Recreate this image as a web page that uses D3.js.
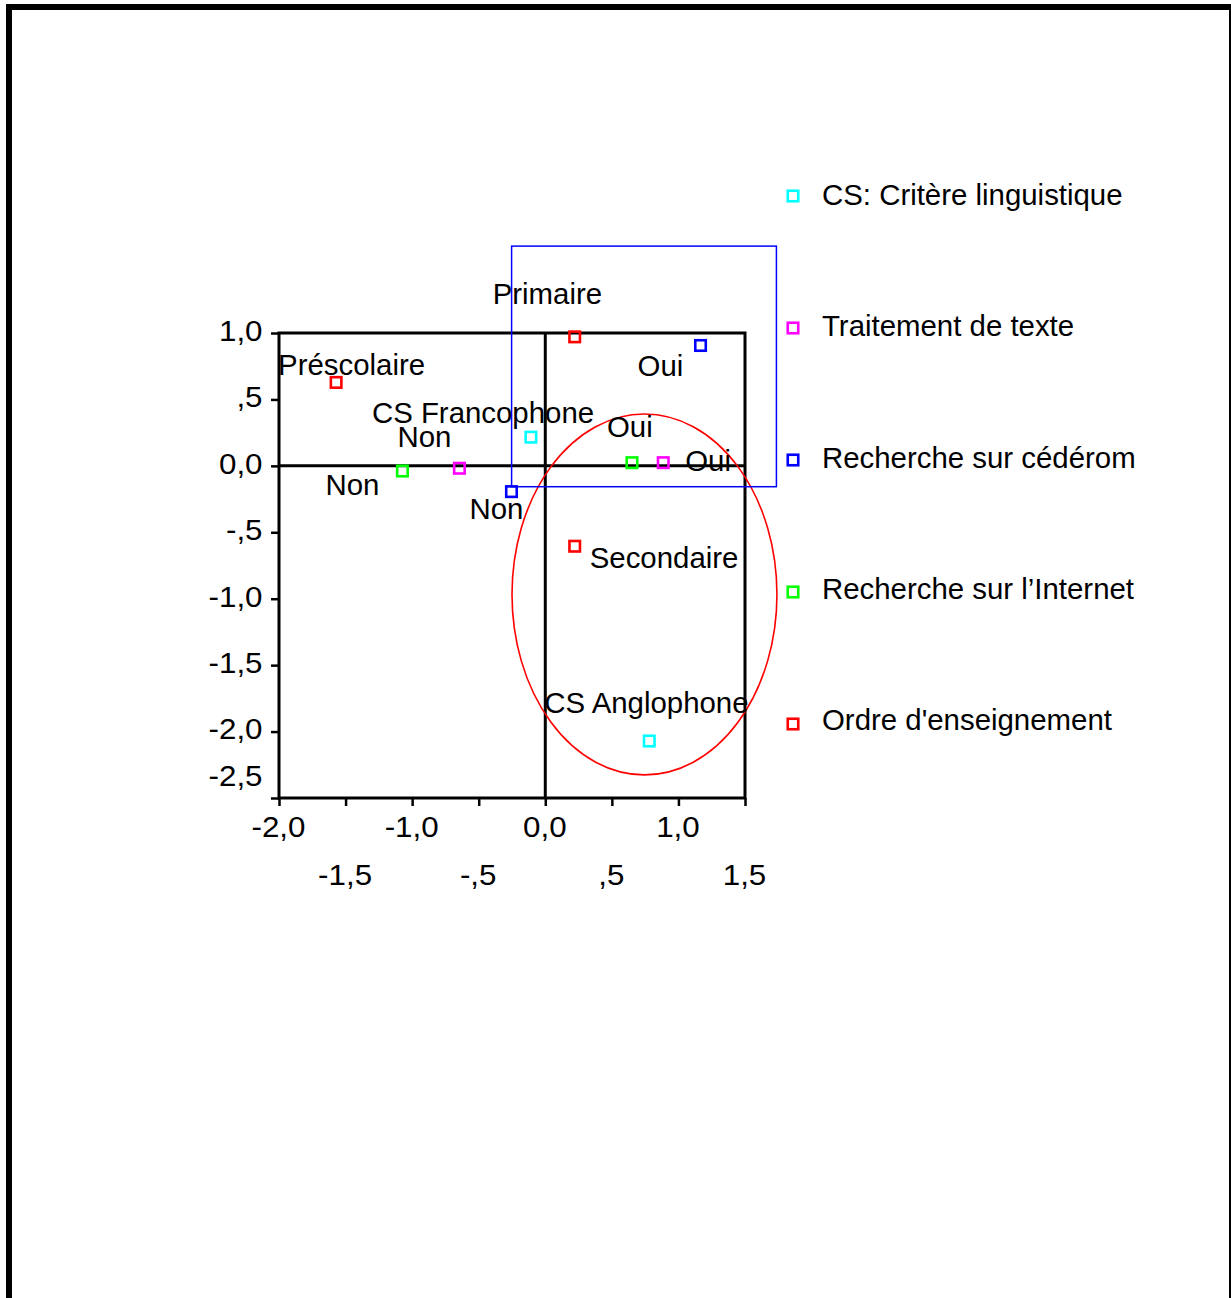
<!DOCTYPE html>
<html>
<head>
<meta charset="utf-8">
<script src="https://cdn.jsdelivr.net/npm/d3@7"></script>
<style>
  html, body { margin: 0; padding: 0; background: #fff; }
  svg { display: block; }
  text { font-family: "Liberation Sans", Arial, sans-serif; fill: #000; }
</style>
</head>
<body>
<div id="chart"></div>
<script>
// ---- Data ----
const seriesNames = ["CS: Critère linguistique", "Traitement de texte", "Recherche sur cédérom", "Recherche sur l\u2019Internet", "Ordre d'enseignement"];
const seriesColors = ["#00FFFF", "#FF00FF", "#0000FF", "#00FF00", "#FF0000"];

const linguistiqueLabels = ["CS Francophone", "CS Anglophone"];
const linguistiqueX = [-0.108, 0.781];
const linguistiqueY = [0.216, -2.071];

const texteLabels = ["Non", "Oui"];
const texteX = [-0.645, 0.886];
const texteY = [-0.018, 0.024];

const cederomLabels = ["Non", "Oui"];
const cederomX = [-0.254, 1.166];
const cederomY = [-0.194, 0.906];

const internetLabels = ["Non", "Oui"];
const internetX = [-1.073, 0.651];
const internetY = [-0.039, 0.024];

const ordreLabels = ["Préscolaire", "Primaire", "Secondaire"];
const ordreX = [-1.571, 0.221, 0.221];
const ordreY = [0.628, 0.971, -0.605];

const xTicks = [-2.0, -1.5, -1.0, -0.5, 0.0, 0.5, 1.0, 1.5];
const yTicks = [-2.5, -2.0, -1.5, -1.0, -0.5, 0.0, 0.5, 1.0];

// highlight shapes (in data units)
const ellipseCenter = [0.745, -0.968];
const ellipseRadii = [0.995, 1.358];
const boxX = [-0.253, 1.736];
const boxY = [-0.157, 1.654];

// label placement (pixel offsets of text start / baseline from the marker)
const labelOffsets = {
  linguistique: [[-159, -14], [-105, -28]],
  texte: [[-62, -21], [22, 8]],
  cederom: [[-42, 27], [-63, 31]],
  internet: [[-77, 24], [-25, -26]],
  ordre: [[-58, -7], [-82, -33], [15, 22]]
};

// ---- Build ----
const W = 1231, H = 1298;
const svg = d3.select("#chart").append("svg").attr("width", W).attr("height", H);

// outer frame
svg.append("rect").attr("x", 9).attr("y", 7).attr("width", 1223).attr("height", 1320)
  .attr("fill", "none").attr("stroke", "#000").attr("stroke-width", 6);

const x = d3.scaleLinear().domain([-2, 1.5]).range([279, 745]);
const y = d3.scaleLinear().domain([-2.5, 1.0]).range([798, 333]);

const fmt = v => {
  if (v === 0) return "0,0";
  let s = Math.abs(v).toFixed(1).replace(".", ",");
  if (Math.abs(v) < 1) s = s.replace(/^0/, "");
  return (v < 0 ? "-" : "") + s;
};

const FS = 29.4;
const TFS = 29;
const SX = 1.08;

// Y axis
const gy = svg.append("g").attr("transform", `translate(${x(-2)},0)`)
  .call(d3.axisLeft(y).tickValues(yTicks).tickSize(8).tickPadding(10).tickFormat(fmt));
gy.select(".domain").remove();
gy.selectAll(".tick line").attr("stroke", "#000").attr("stroke-width", 2.5);
gy.selectAll(".tick text").attr("font-size", TFS).attr("dy", 0)
  .attr("font-family", '"Liberation Sans", Arial, sans-serif')
  .attr("x", null)
  .attr("y", null)
  .attr("transform", d => `translate(-16.5,${(d === yTicks[0] ? -21 : -1) + 8.4}) scale(${SX},1)`);

// X axis
const gx = svg.append("g").attr("transform", `translate(0,${y(-2.5)})`)
  .call(d3.axisBottom(x).tickValues(xTicks).tickSize(8).tickFormat(fmt));
gx.select(".domain").remove();
gx.selectAll(".tick line").attr("stroke", "#000").attr("stroke-width", 2.5);
gx.selectAll(".tick text").attr("font-size", TFS).attr("dy", 0)
  .attr("font-family", '"Liberation Sans", Arial, sans-serif')
  .attr("y", null)
  .attr("transform", (d, i) => `translate(-1,${i % 2 === 0 ? 39 : 87}) scale(${SX},1)`);

// plot frame + zero lines
const frame = svg.append("g").attr("stroke", "#000").attr("stroke-width", 3).attr("fill", "none");
frame.append("rect").attr("x", x(-2)).attr("y", y(1)).attr("width", x(1.5) - x(-2)).attr("height", y(-2.5) - y(1));
frame.append("line").attr("x1", x(0)).attr("x2", x(0)).attr("y1", y(1)).attr("y2", y(-2.5));
frame.append("line").attr("x1", x(-2)).attr("x2", x(1.5)).attr("y1", y(0)).attr("y2", y(0));

// highlight shapes
svg.append("ellipse")
  .attr("cx", x(ellipseCenter[0])).attr("cy", y(ellipseCenter[1]))
  .attr("rx", x(ellipseCenter[0] + ellipseRadii[0]) - x(ellipseCenter[0]))
  .attr("ry", y(ellipseCenter[1]) - y(ellipseCenter[1] + ellipseRadii[1]))
  .attr("fill", "none").attr("stroke", "#FF0000").attr("stroke-width", 1.6);
svg.append("rect")
  .attr("x", x(boxX[0])).attr("y", y(boxY[1]))
  .attr("width", x(boxX[1]) - x(boxX[0])).attr("height", y(boxY[0]) - y(boxY[1]))
  .attr("fill", "none").attr("stroke", "#0000FF").attr("stroke-width", 1.5);

// points
const groups = [
  { key: "linguistique", labels: linguistiqueLabels, xs: linguistiqueX, ys: linguistiqueY, color: seriesColors[0] },
  { key: "texte", labels: texteLabels, xs: texteX, ys: texteY, color: seriesColors[1] },
  { key: "cederom", labels: cederomLabels, xs: cederomX, ys: cederomY, color: seriesColors[2] },
  { key: "internet", labels: internetLabels, xs: internetX, ys: internetY, color: seriesColors[3] },
  { key: "ordre", labels: ordreLabels, xs: ordreX, ys: ordreY, color: seriesColors[4] }
];

const M = 10.5;
groups.forEach(g => {
  const pts = g.labels.map((l, i) => ({ label: l, x: g.xs[i], y: g.ys[i], off: labelOffsets[g.key][i] }));
  const gg = svg.append("g");
  gg.selectAll("rect").data(pts).enter().append("rect")
    .attr("x", d => x(d.x) - M / 2).attr("y", d => y(d.y) - M / 2)
    .attr("width", M).attr("height", M)
    .attr("fill", "none").attr("stroke", g.color).attr("stroke-width", 2.6);
  gg.selectAll("text").data(pts).enter().append("text")
    .attr("x", d => x(d.x) + d.off[0]).attr("y", d => y(d.y) + d.off[1])
    .attr("font-size", FS).text(d => d.label);
});

// legend
const lyMark = d3.scaleLinear().domain([0, 4]).range([196, 724]);
const lyText = d3.scaleLinear().domain([0, 4]).range([205, 730]);
const lg = svg.append("g");
seriesNames.forEach((name, i) => {
  lg.append("rect").attr("x", 793 - M / 2).attr("y", lyMark(i) - M / 2).attr("width", M).attr("height", M)
    .attr("fill", "none").attr("stroke", seriesColors[i]).attr("stroke-width", 2.6);
  lg.append("text").attr("x", 822).attr("y", lyText(i)).attr("font-size", FS).text(name);
});
</script>
</body>
</html>
